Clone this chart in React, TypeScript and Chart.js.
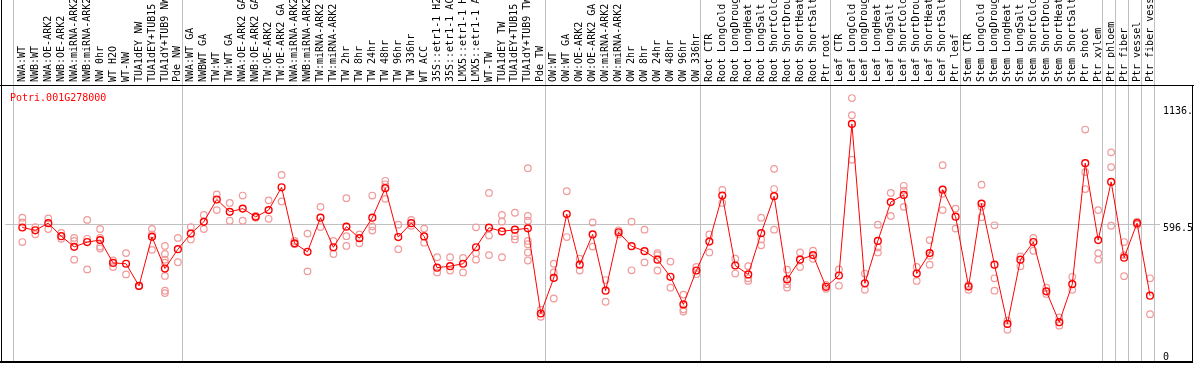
import React, { useEffect, useRef } from "react";
import { Chart, registerables } from "chart.js";

Chart.register(...registerables);

const geneId = "Potri.001G278000";

const categories = [
  "NWA:WT", "NWB:WT", "NWA:OE-ARK2", "NWB:OE-ARK2", "NWA:miRNA-ARK2", "NWB:miRNA-ARK2", "NW 0hr", "WT H2O", "WT-NW", "TUA1dEY NW", "TUA1dEY+TUB15", "TUA1dY+TUB9 NW", "Pde NW",
  "NWA:WT GA", "NWBWT GA", "TW:WT", "TW:WT GA", "NWA:OE-ARK2 GA", "NWB:OE-ARK2 GA", "TW:OE-ARK2", "TW:OE-ARK2 GA", "NWA:miRNA-ARK2", "NWB:miRNA-ARK2", "TW:miRNA-ARK2", "TW:miRNA-ARK2 GA", "TW 2hr", "TW 8hr", "TW 24hr", "TW 48hr", "TW 96hr", "TW 336hr", "WT ACC", "35S::etr1-1 H2O", "35S::etr1-1 ACC", "LMX5::etr1-1 H2O", "LMX5::etr1-1 ACC", "WT-TW", "TUA1dEY TW", "TUA1dEY+TUB15", "TUA1dY+TUB9 TW", "Pde TW",
  "OW:WT", "OW:WT GA", "OW:OE-ARK2", "OW:OE-ARK2 GA", "OW:miRNA-ARK2", "OW:miRNA-ARK2 GA", "OW 2hr", "OW 8hr", "OW 24hr", "OW 48hr", "OW 96hr", "OW 336hr",
  "Root CTR", "Root LongCold", "Root LongDrought", "Root LongHeat", "Root LongSalt", "Root ShortCold", "Root ShortDrought", "Root ShortHeat", "Root ShortSalt", "Ptr root",
  "Leaf CTR", "Leaf LongCold", "Leaf LongDrought", "Leaf LongHeat", "Leaf LongSalt", "Leaf ShortCold", "Leaf ShortDrought", "Leaf ShortHeat", "Leaf ShortSalt", "Ptr leaf",
  "Stem CTR", "Stem LongCold", "Stem LongDrought", "Stem LongHeat", "Stem LongSalt", "Stem ShortCold", "Stem ShortDrought", "Stem ShortHeat", "Stem ShortSalt", "Ptr shoot", "Ptr xylem",
  "Ptr phloem", "Ptr fiber", "Ptr vessel", "Ptr fiber vessel",
];

const means = [
  581, 568, 601, 541, 492, 514, 523, 418, 414, 312, 538, 392, 481,
  553, 607, 710, 653, 668, 630, 661, 766, 508, 469, 626, 490, 585, 532, 626, 762, 537, 601, 540, 396, 403, 414, 490, 580, 563, 571, 577, 185,
  349, 643, 410, 549, 290, 559, 495, 472, 433, 354, 227, 383,
  516, 728, 406, 365, 555, 725, 342, 433, 454, 308,
  360, 1058, 324, 519, 698, 731, 369, 463, 755, 631,
  309, 691, 410, 137, 433, 514, 287, 145, 320, 877, 523,
  791, 442, 601, 267,
];

const replicates = [
  [626, 604, 514], [583, 550], [623, 574], [556, 529], [533, 519, 433], [616, 529, 388], [574, 533, 493, 484], [429, 399], [463, 365], [312, 312], [574, 549, 478], [496, 459, 433, 419, 358, 290, 279], [533, 421],
  [583, 526], [639, 574], [733, 661], [694, 612], [728, 612], [634, 626], [706, 621], [823, 701], [519, 504], [553, 379], [676, 583], [519, 459], [716, 541, 496], [549, 508], [728, 586, 567], [796, 780, 713], [594, 481], [616, 589], [576, 511], [444, 374], [444, 383], [441, 374], [582, 462, 433], [740, 544, 454], [639, 608, 444], [649, 541, 526], [854, 634, 612, 519, 504, 466, 429], [203, 170],
  [414, 374, 254], [748, 537], [437, 383], [604, 493], [339, 239], [568, 550], [608, 384], [571, 420], [463, 454, 383], [424, 304], [272, 204, 194], [399, 366],
  [549, 466], [754, 694], [437, 369], [403, 347, 335], [626, 526, 499], [851, 758, 571], [387, 320, 304], [466, 399], [474, 437], [317, 299],
  [388, 313], [1177, 1098, 893], [369, 294], [594, 489, 466], [740, 634], [773, 751, 676], [399, 335], [523, 451, 410], [868, 736, 661], [668, 576],
  [317, 294], [778, 676, 628], [591, 347, 290], [152, 110], [448, 403], [533, 474], [304, 275], [167, 129], [354, 294], [1032, 836, 758], [661, 463, 433],
  [927, 859, 589], [514, 454, 357], [608, 594], [347, 182],
];

// index of the first category of each group (last = end)
const groupStarts = [0, 13, 41, 53, 63, 73, 84, 85, 86, 87, 88];

const yTickValues = [0, 596.5, 1136];
const yTickLabels = ["0", "596.5", "1136."];

const FONT = "'DejaVu Sans Mono', 'Liberation Mono', monospace";

const framePlugin = {
  id: "frame",
  beforeDatasetsDraw(chart: any) {
    const { ctx, chartArea, scales } = chart;
    const xs = scales.x;
    ctx.save();
    ctx.lineWidth = 1;
    ctx.strokeStyle = "#c0c0c0";
    groupStarts.forEach((k) => {
      const px = Math.floor(xs.getPixelForValue(k - 0.65)) + 0.5;
      ctx.beginPath();
      ctx.moveTo(px, 0);
      ctx.lineTo(px, chartArea.bottom);
      ctx.stroke();
    });
    ctx.strokeStyle = "#000000";
    ctx.beginPath();
    ctx.moveTo(1.5, 0);
    ctx.lineTo(1.5, chartArea.bottom + 1);
    ctx.moveTo(0, chartArea.top + 0.5);
    ctx.lineTo(chart.width, chartArea.top + 0.5);
    ctx.moveTo(1192.5, chartArea.top);
    ctx.lineTo(1192.5, chartArea.bottom + 1);
    ctx.stroke();
    ctx.lineWidth = 2;
    ctx.beginPath();
    ctx.moveTo(0, chartArea.bottom + 1);
    ctx.lineTo(1193, chartArea.bottom + 1);
    ctx.stroke();
    ctx.restore();
  },
  afterDraw(chart: any) {
    const { ctx } = chart;
    ctx.save();
    ctx.fillStyle = "#ff0000";
    ctx.font = `10px ${FONT}`;
    ctx.textAlign = "left";
    ctx.textBaseline = "alphabetic";
    ctx.fillText(geneId, 10, 101);
    ctx.restore();
  },
};

export default function App() {
  const ref = useRef<HTMLCanvasElement>(null);
  useEffect(() => {
    document.body.style.margin = "0";
    const repData: { x: number; y: number }[] = [];
    replicates.forEach((arr, i) => arr.forEach((v) => repData.push({ x: i, y: v })));
    const meanData = means.map((v, i) => ({ x: i, y: v }));
    const xMin = -17 / 13;
    const xMax = xMin + 1158 / 13;
    const chart = new Chart(ref.current as HTMLCanvasElement, {
      type: "line",
      data: {
        datasets: [
          {
            label: "mean",
            data: meanData,
            borderColor: "#ff0000",
            borderWidth: 1,
            pointRadius: 3.4,
            pointBorderWidth: 1.4,
            pointBorderColor: "#ff0000",
            pointBackgroundColor: "rgba(0,0,0,0)",
            tension: 0,
            order: 0,
          },
          {
            label: "replicates",
            data: repData,
            showLine: false,
            pointRadius: 3.3,
            pointBorderWidth: 1.2,
            pointBorderColor: "#f09a9a",
            pointBackgroundColor: "rgba(0,0,0,0)",
            order: 1,
          },
        ],
      },
      options: {
        responsive: false,
        animation: false,
        devicePixelRatio: 1,
        layout: { padding: { left: 2, right: 2, top: 0, bottom: 2 } },
        plugins: {
          legend: { display: false },
          tooltip: { enabled: false },
          title: { display: false },
        },
        scales: {
          x: {
            type: "linear",
            position: "top",
            min: xMin,
            max: xMax,
            afterBuildTicks: (scale: any) => {
              scale.ticks = categories.map((_, i) => ({ value: i }));
            },
            afterFit: (scale: any) => {
              scale.height = 85;
            },
            grid: { display: false, drawTicks: false },
            border: { display: false },
            ticks: {
              autoSkip: false,
              minRotation: 90,
              maxRotation: 90,
              padding: 3,
              labelOffset: 12,
              color: "#000000",
              font: { family: FONT, size: 10 },
              callback: (v: any) => categories[v as number] ?? "",
            },
          },
          y: {
            type: "linear",
            position: "right",
            min: -33.7,
            max: 1237.1,
            afterBuildTicks: (scale: any) => {
              scale.ticks = yTickValues.map((v) => ({ value: v }));
            },
            afterFit: (scale: any) => {
              scale.width = 32;
            },
            grid: {
              drawTicks: false,
              color: (c: any) => (c.tick && c.tick.value === 596.5 ? "#c0c0c0" : "rgba(0,0,0,0)"),
            },
            border: { display: false },
            ticks: {
              padding: 3,
              labelOffset: 4,
              color: "#000000",
              font: { family: FONT, size: 10 },
              callback: (v: any) => yTickLabels[yTickValues.indexOf(v as number)] ?? "",
            },
          },
        },
      },
      plugins: [framePlugin],
    } as any);
    return () => chart.destroy();
  }, []);
  return (
    <canvas
      ref={ref}
      width={1194}
      height={370}
      style={{ display: "block", width: "1194px", height: "370px" }}
    />
  );
}
